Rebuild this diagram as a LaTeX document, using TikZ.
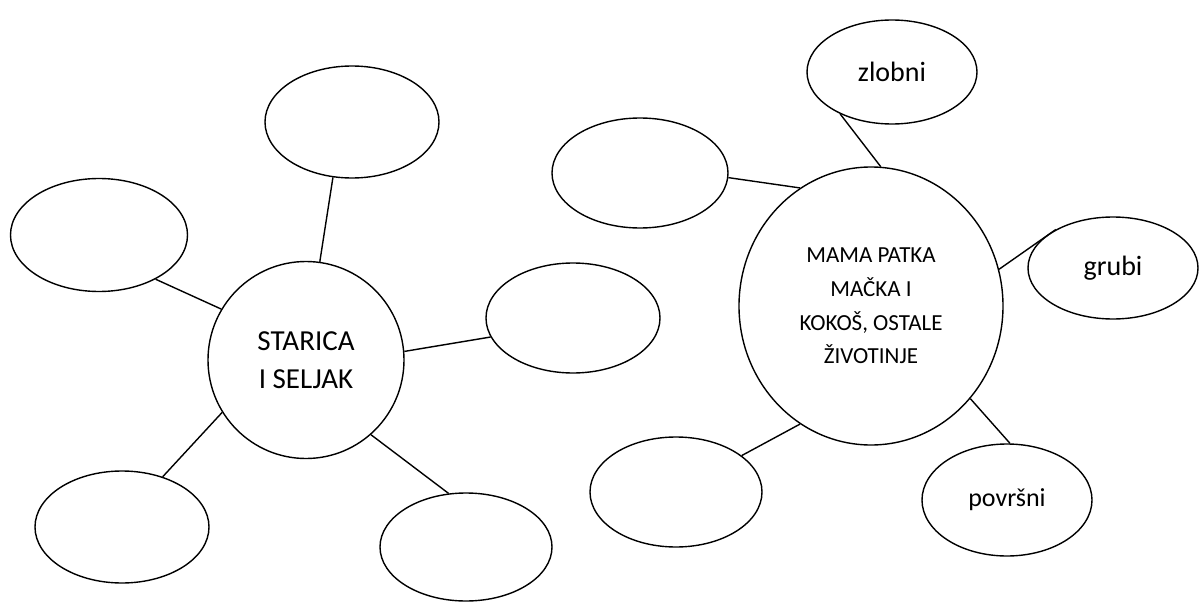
\documentclass[tikz,border=0pt]{standalone}
\usepackage{fontspec}
\setmainfont{Carlito}
\usetikzlibrary{shapes.geometric}

\begin{document}
\begin{tikzpicture}[x=1pt,y=-1pt,
  hub/.style={draw,line width=1.4pt,ellipse,inner sep=0pt,align=center},
  bubble/.style={draw,line width=1.4pt,ellipse,inner sep=0pt,minimum width=174pt,
    minimum height=110pt,font=\fontsize{28}{34}\selectfont},
  link/.style={line width=1.4pt}]
\useasboundingbox (0,0) rectangle (1200,602);
% left group
\node[hub,minimum width=196pt,minimum height=197pt,font=\fontsize{29}{38}\selectfont]
  (starica) at (306,360) {STARICA\\I SELJAK};
\node[bubble,minimum height=112pt] (l1) at (352,122) {};
\node[bubble,minimum width=177pt,minimum height=113pt] (l2) at (99,235) {};
\node[bubble] (l3) at (573,318) {};
\node[bubble,minimum height=112pt] (l4) at (122,527) {};
\node[bubble,minimum width=172pt,minimum height=108pt] (l5) at (466,547) {};
\draw[link] (starica.82) -- (l1.251);
\draw[link] (starica.149) -- (l2.322);
\draw[link] (starica.5) -- (l3.193);
\draw[link] (starica.212) -- (l4.51);
\draw[link] (starica.311) -- (l5.108);
% right group
\node[hub,minimum width=264pt,minimum height=278pt,font=\fontsize{23}{33.7}\selectfont]
  (mama) at (871,306) {MAMA PATKA\\MAČKA I\\KOKOŠ, OSTALE\\ŽIVOTINJE};
\node[bubble,minimum width=170pt,minimum height=104pt] (zlobni) at (892,72) {zlobni};
\node[bubble,minimum width=176pt] (r2) at (640,173) {};
\node[bubble,minimum width=170pt,minimum height=102pt] (grubi) at (1113,268) {grubi};
\node[bubble,minimum width=172pt] (r4) at (676,492) {};
\node[bubble,minimum width=170pt,minimum height=112pt,font=\fontsize{26}{32}\selectfont]
  (povrsni) at (1007,500) {površni};
\draw[link] (mama.86) -- (zlobni.219);
\draw[link] (mama.121) -- (r2.357);
\draw[link] (mama.16) -- (grubi.146);
\draw[link] (mama.239) -- (r4.29);
\draw[link] (mama.317) -- (povrsni.87);
\end{tikzpicture}
\end{document}
